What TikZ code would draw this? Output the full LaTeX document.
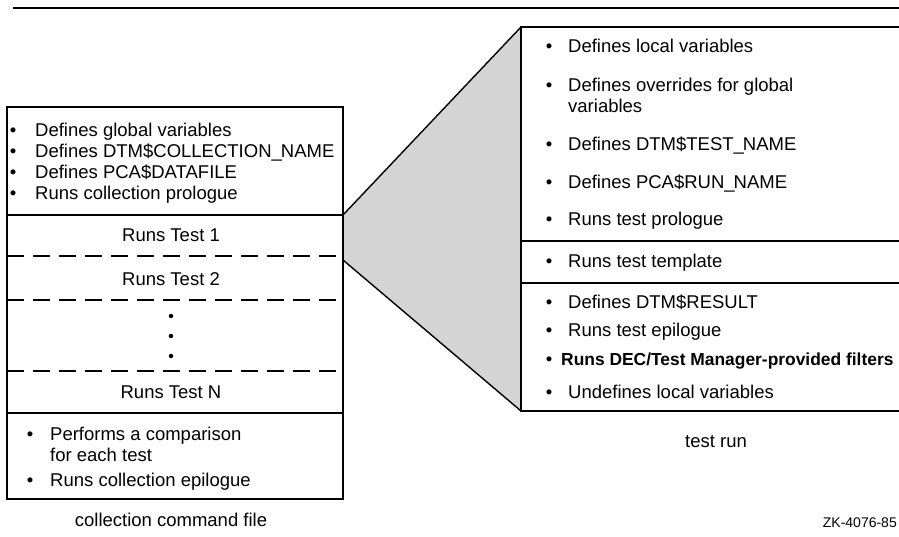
\documentclass[tikz,border=0pt]{standalone}
\usepackage{fontspec}
\setmainfont{Liberation Sans}
\begin{document}
\begin{tikzpicture}[x=1pt,y=-1pt,
  every node/.style={inner sep=0pt, font=\fontsize{18.5}{22}\selectfont},
  txt/.style={anchor=base west},
  ctr/.style={anchor=base},
  bul/.style={anchor=base},
  dot/.style={circle,fill,minimum size=4.5pt},
  frame/.style={line width=1.4pt},
  sep/.style={line width=1.2pt},
  dsep/.style={line width=1.2pt, dash pattern=on 17pt off 9pt},
  zoomfill/.style={fill=black!17},
  zoomline/.style={line width=1.4pt},
]
\useasboundingbox (0,0) rectangle (899,537);
\fill[white] (0,0) rectangle (899,537);

% top rule
\coordinate (ruleA) at (13,8);
\coordinate (ruleB) at (899,8);
\draw[line width=2.2pt] (ruleA) -- (ruleB);

% ---------- left box: collection command file ----------
\coordinate (LTL) at (7,107);
\coordinate (LBR) at (343,499);
\coordinate (L1L) at (7,215);   \coordinate (L1R) at (343,215);
\coordinate (L2L) at (7,256);   \coordinate (L2R) at (343,256);
\coordinate (L3L) at (7,300);   \coordinate (L3R) at (343,300);
\coordinate (L4L) at (7,371);   \coordinate (L4R) at (343,371);
\coordinate (L5L) at (7,413);   \coordinate (L5R) at (343,413);

% ---------- right box: test run ----------
\coordinate (RTL) at (521,27);
\coordinate (RTR) at (899,27);
\coordinate (RBL) at (521,411);
\coordinate (RBR) at (899,411);
\coordinate (R1L) at (521,241); \coordinate (R1R) at (899,241);
\coordinate (R2L) at (521,283); \coordinate (R2R) at (899,283);

% zoom wedge
\coordinate (ZA) at (343,215);
\coordinate (ZB) at (343,260);
\fill[zoomfill] (ZA) -- (RTL) -- (RBL) -- (ZB) -- cycle;
\draw[zoomline] (ZA) -- (RTL);
\draw[zoomline] (ZB) -- (RBL);

% left box drawing
\draw[frame] (LTL) rectangle (LBR);
\draw[sep] (L1L) -- (L1R);
\draw[dsep] (L2L) -- (L2R);
\draw[dsep] (L3L) -- (L3R);
\draw[dsep] (L4L) -- (L4R);
\draw[sep] (L5L) -- (L5R);

% right box drawing (open to the right edge)
\draw[frame] (RTR) -- (RTL) -- (RBL) -- (RBR);
\draw[sep] (R1L) -- (R1R);
\draw[sep] (R2L) -- (R2R);

% left box texts
\node[bul] (lb1) at (13,137) {\textbullet};
\node[txt] (lt1) at (35,137) {Defines global variables};
\node[bul] (lb2) at (13,158) {\textbullet};
\node[txt] (lt2) at (35,158) {Defines DTM\$COLLECTION\_\kern-1ptNAME};
\node[bul] (lb3) at (13,179) {\textbullet};
\node[txt] (lt3) at (35,179) {Defines PCA\$DATAFILE};
\node[bul] (lb4) at (13,200) {\textbullet};
\node[txt] (lt4) at (35,200) {Runs collection prologue};

\node[ctr] (test1) at (171,242) {Runs Test 1};
\node[ctr] (test2) at (171,285) {Runs Test 2};
\node[dot] (d1) at (171,316) {};
\node[dot] (d2) at (171,336) {};
\node[dot] (d3) at (171,356) {};
\node[ctr] (testN) at (171,398) {Runs Test N};

\node[bul] (lb5) at (30,440) {\textbullet};
\node[txt] (lt5) at (50,440) {Performs a comparison};
\node[txt] (lt6) at (50,461) {for each test};
\node[bul] (lb7) at (30,486) {\textbullet};
\node[txt] (lt7) at (50,486) {Runs collection epilogue};

\node[ctr] (lcap) at (171,526) {collection command file};

% right box texts
\node[bul] (rb1) at (549,53) {\textbullet};
\node[txt] (rt1) at (568,53) {Defines local variables};
\node[bul] (rb2) at (549,92) {\textbullet};
\node[txt] (rt2) at (568,92) {Defines overrides for global};
\node[txt] (rt2b) at (568,113) {variables};
\node[bul] (rb3) at (549,151) {\textbullet};
\node[txt] (rt3) at (568,151) {Defines DTM\$TEST\_\kern-1ptNAME};
\node[bul] (rb4) at (549,189) {\textbullet};
\node[txt] (rt4) at (568,189) {Defines PCA\$RUN\_\kern-1ptNAME};
\node[bul] (rb5) at (549,226) {\textbullet};
\node[txt] (rt5) at (568,226) {Runs test prologue};
\node[bul] (rb6) at (549,268) {\textbullet};
\node[txt] (rt6) at (568,268) {Runs test template};
\node[bul] (rb7) at (549,308) {\textbullet};
\node[txt] (rt7) at (568,308) {Defines DTM\$RESULT};
\node[bul] (rb8) at (549,336) {\textbullet};
\node[txt] (rt8) at (568,336) {Runs test epilogue};
\node[bul] (rb9) at (549,365) {\textbullet};
\node[txt,font=\fontsize{17.4}{21}\selectfont\bfseries] (rt9) at (561,365) {Runs DEC/Test Manager-provided filters};
\node[bul] (rb10) at (549,398) {\textbullet};
\node[txt] (rt10) at (568,398) {Undefines local variables};

\node[ctr] (rcap) at (716,447) {test run};
\node[anchor=base east,font=\fontsize{14}{16}\selectfont] (zk) at (897,527) {ZK-4076-85};
\end{tikzpicture}
\end{document}
